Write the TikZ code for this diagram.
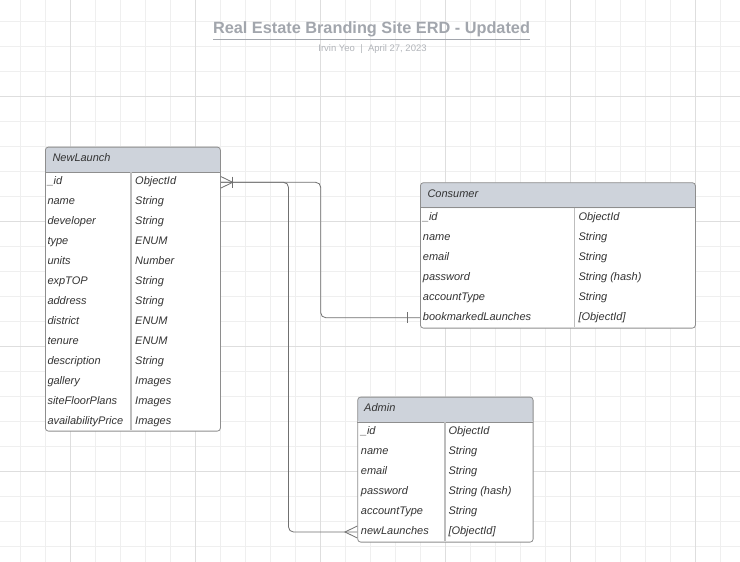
\documentclass[tikz,border=0pt]{standalone}
\usepackage{fontspec}
\setmainfont{Liberation Sans}
\definecolor{gridl}{HTML}{EFEFEF}
\definecolor{gridd}{HTML}{DEDEDE}
\definecolor{hdr}{HTML}{CED3DB}
\definecolor{bord}{HTML}{8E8E8E}
\definecolor{divc}{HTML}{BDBDBD}
\definecolor{txt}{HTML}{333333}
\definecolor{ttl}{HTML}{A2A6AD}
\definecolor{subt}{HTML}{B2B5BA}
\definecolor{lnk}{HTML}{707070}
\begin{document}
\begin{tikzpicture}[x=1pt,y=-1pt,
  tbl/.style={draw=bord, line width=0.8pt, rounded corners=3pt, fill=white, inner sep=0pt, anchor=north west},
  fld/.style={anchor=base west, inner sep=0pt, font=\fontsize{11}{13}\selectfont\itshape, text=txt},
  sepline/.style={draw=bord, line width=0.8pt},
  divline/.style={draw=divc, line width=1.3pt},
  conn/.style={draw=lnk, line width=0.8pt},
  hdrfill/.style={path picture={\fill[hdr] (path picture bounding box.north west) rectangle ([yshift=-#1]path picture bounding box.north east);}}]
\useasboundingbox (0,0) rectangle (740,562);
\fill[white] (0,0) rectangle (740,562);
% grid
\foreach \k in {0,...,29} \draw[gridl, line width=0.8pt] ({20.7+25*\k},0) -- ({20.7+25*\k},562);
\foreach \k in {0,...,22} \draw[gridl, line width=0.8pt] (0,{21.7+25*\k}) -- (740,{21.7+25*\k});
\foreach \k in {0,...,5} \draw[gridd, line width=0.8pt] ({70.7+125*\k},0) -- ({70.7+125*\k},562);
\foreach \k in {0,...,3} \draw[gridd, line width=0.8pt] (0,{96.7+125*\k}) -- (740,{96.7+125*\k});
% title
\node[font=\fontsize{16.3}{18}\selectfont\bfseries, text=ttl, anchor=base, inner sep=0pt] (title) at (371.5,33.3) {Real Estate Branding Site ERD - Updated};
\draw[ttl, line width=1.2pt] (213,39.3) -- (530,39.3);
\node[font=\fontsize{9.5}{11}\selectfont, text=subt, anchor=base, inner sep=0pt] (subtitle) at (372.5,51.7) {Irvin Yeo\ \ |\ \ April 27, 2023};
% connectors
\coordinate (nlid) at (220,182.3);
\coordinate (nlbar) at (232.7,182.3);
\coordinate (cbm) at (420,317.7);
\coordinate (anl) at (357.3,532);
\draw[conn, rounded corners=5pt] (nlid) -| (320.7,317.7) -- (cbm);
\draw[conn, rounded corners=5pt] (nlid) -| (288.5,532) -- (anl);
% NewLaunch
\node[tbl, hdrfill=25.6pt, minimum width=175pt, minimum height=284pt] (nl) at (45,146.7) {};
\draw[sepline] (45,172.3) -- (220,172.3);
\draw[divline] (131,172.3) -- (131,430.3);
\node[fld] (nlh) at (52.3,161.6) {NewLaunch};
\foreach \f/\t [count=\i] in {\_id/ObjectId, name/String, developer/String, type/ENUM, units/Number, expTOP/String, address/String, district/ENUM, tenure/ENUM, description/String, gallery/Images, siteFloorPlans/Images, availabilityPrice/Images} {
  \node[fld] (nlf\i) at (47.3,{164.6+20*\i}) {\f};
  \node[fld] (nlt\i) at (135,{164.6+20*\i}) {\t};
}
% Consumer
\node[tbl, hdrfill=25.4pt, minimum width=275pt, minimum height=145.4pt] (cons) at (420,182.3) {};
\draw[sepline] (420,207.7) -- (695,207.7);
\draw[divline] (574.3,207.7) -- (574.3,327.3);
\node[fld] (consh) at (427.3,197.6) {Consumer};
\foreach \f/\t [count=\i] in {\_id/ObjectId, name/String, email/String, password/String (hash), accountType/String, bookmarkedLaunches/{[ObjectId]}} {
  \node[fld] (consf\i) at (422.7,{200.1+20*\i}) {\f};
  \node[fld] (const\i) at (578.3,{200.1+20*\i}) {\t};
}
% Admin
\node[tbl, hdrfill=25.3pt, minimum width=175.4pt, minimum height=145pt] (adm) at (357.3,396.7) {};
\draw[sepline] (357.3,422) -- (532.7,422);
\draw[divline] (445,422) -- (445,541.3);
\node[fld] (admh) at (364,411.9) {Admin};
\foreach \f/\t [count=\i] in {\_id/ObjectId, name/String, email/String, password/String (hash), accountType/String, newLaunches/{[ObjectId]}} {
  \node[fld] (admf\i) at (360.7,{414.4+20*\i}) {\f};
  \node[fld] (admt\i) at (448.3,{414.4+20*\i}) {\t};
}
% cardinality marks
\draw[conn] (nl.east |- 0,176.5) -- (nlbar) -- (nl.east |- 0,188.1);
\draw[conn] ([yshift=5.6pt]nlbar) -- ([yshift=-5.6pt]nlbar);
\draw[conn] (407.3,312) -- (407.3,323.4);
\draw[conn] (adm.west |- 0,526) -- (345,532) -- (adm.west |- 0,538);
\end{tikzpicture}
\end{document}
